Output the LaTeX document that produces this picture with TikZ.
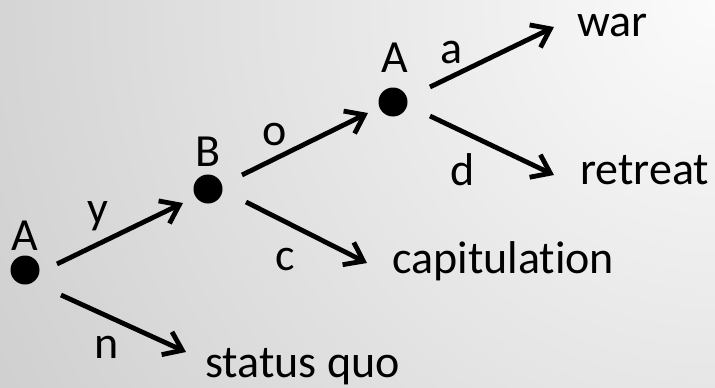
\documentclass[tikz,border=0pt]{standalone}
\usepackage{fontspec}
\setmainfont{Carlito}[Ligatures=NoCommon]
\usetikzlibrary{arrows.meta,calc}
\definecolor{bgin}{RGB}{251,251,251}
\definecolor{bgout}{RGB}{164,164,164}
\pgfdeclareradialshading{bgshade}{\pgfpointorigin}{color(0bp)=(bgin); color(50bp)=(bgout)}
\begin{document}
\begin{tikzpicture}[x=1pt,y=-1pt,
  dot/.style={circle,fill=black,inner sep=0pt,minimum size=29pt},
  lbl/.style={inner sep=0pt,anchor=base,font=\fontsize{46}{50}\selectfont},
  term/.style={inner sep=0pt,anchor=base west,font=\fontsize{46}{50}\selectfont},
  arr/.style={line width=4.8pt,-{Straight Barb[length=17pt,width=25pt]}}]
\begin{scope}
\clip (0,0) rectangle (715,388);
\fill[shading=bgshade] (715,0) circle[radius=813pt];
\end{scope}
\useasboundingbox (0,0) rectangle (715,388);
% decision nodes
\node[dot] (a1) at (25,270) {};
\node[dot] (b) at (208,189) {};
\node[dot] (a2) at (393,102) {};
% player labels
\node[lbl] (la1) at (25,250) {A};
\node[lbl] (lb) at (208,166) {B};
\node[lbl] (la2) at (395,72) {A};
% terminal outcomes
\node[term] (war) at (577,36) {war};
\node[term] (ret) at (580,184) {retreat};
\node[term] (cap) at (392,273) {capitulation};
\node[term] (sq) at (205,377) {status quo};
% edges
\draw[arr] ($(a1)+(32,-6)$) -- ($(b)+(-25,14)$);
\draw[arr] ($(a1)+(36,25)$) -- ($(sq.base west)+(-19,-25)$);
\draw[arr] ($(b)+(34,-14)$) -- ($(a2)+(-25,11)$);
\draw[arr] ($(b)+(38,13)$) -- ($(cap.base west)+(-25,-10)$);
\draw[arr] ($(a2)+(37,-15)$) -- ($(war.base west)+(-23,-9)$);
\draw[arr] ($(a2)+(37,14)$) -- ($(ret.base west)+(-26,-9)$);
% edge labels
\node[lbl] (ly) at (98,223) {y};
\node[lbl] (ln) at (107,358) {n};
\node[lbl] (lo) at (275,145) {o};
\node[lbl] (lc) at (285,270) {c};
\node[lbl] (la) at (452,63) {a};
\node[lbl] (ld) at (463,185) {d};
\end{tikzpicture}
\end{document}
